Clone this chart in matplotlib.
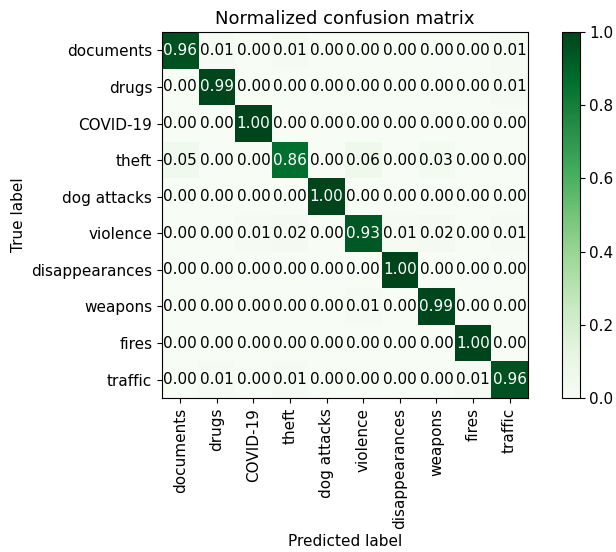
import matplotlib
matplotlib.use("Agg")
import matplotlib.pyplot as plt
import numpy as np

classes = ["documents", "drugs", "COVID-19", "theft", "dog attacks",
           "violence", "disappearances", "weapons", "fires", "traffic"]

# normalized confusion matrix, rows = true label, cols = predicted label
cm = np.array([
    [0.96, 0.01, 0.00, 0.01, 0.00, 0.00, 0.00, 0.00, 0.00, 0.01],
    [0.00, 0.99, 0.00, 0.00, 0.00, 0.00, 0.00, 0.00, 0.00, 0.01],
    [0.00, 0.00, 1.00, 0.00, 0.00, 0.00, 0.00, 0.00, 0.00, 0.00],
    [0.05, 0.00, 0.00, 0.86, 0.00, 0.06, 0.00, 0.03, 0.00, 0.00],
    [0.00, 0.00, 0.00, 0.00, 1.00, 0.00, 0.00, 0.00, 0.00, 0.00],
    [0.00, 0.00, 0.01, 0.02, 0.00, 0.93, 0.01, 0.02, 0.00, 0.01],
    [0.00, 0.00, 0.00, 0.00, 0.00, 0.00, 1.00, 0.00, 0.00, 0.00],
    [0.00, 0.00, 0.00, 0.00, 0.00, 0.01, 0.00, 0.99, 0.00, 0.00],
    [0.00, 0.00, 0.00, 0.00, 0.00, 0.00, 0.00, 0.00, 1.00, 0.00],
    [0.00, 0.01, 0.00, 0.01, 0.00, 0.00, 0.00, 0.00, 0.01, 0.96],
])

fig = plt.figure(figsize=(6.16, 5.52), dpi=100)
ax = fig.add_axes([0.263, 0.279, 0.594, 0.663])
cax = fig.add_axes([0.912, 0.279, 0.029, 0.663])

im = ax.imshow(cm, interpolation="nearest", cmap=plt.cm.Greens, vmin=0, vmax=1)
cb = fig.colorbar(im, cax=cax)
cb.ax.tick_params(labelsize=11)

ax.set_title("Normalized confusion matrix", fontsize=13)
ticks = np.arange(len(classes))
ax.set_xticks(ticks)
ax.set_xticklabels(classes, rotation=90, fontsize=11)
ax.set_yticks(ticks)
ax.set_yticklabels(classes, fontsize=11)

thresh = cm.max() / 2.
for i in range(cm.shape[0]):
    for j in range(cm.shape[1]):
        ax.text(j, i, format(cm[i, j], ".2f"),
                ha="center", va="center", fontsize=11,
                color="white" if cm[i, j] > thresh else "black")

ax.set_ylabel("True label", fontsize=11)
ax.set_xlabel("Predicted label", fontsize=11)

fig.savefig("out.png", dpi=100)
